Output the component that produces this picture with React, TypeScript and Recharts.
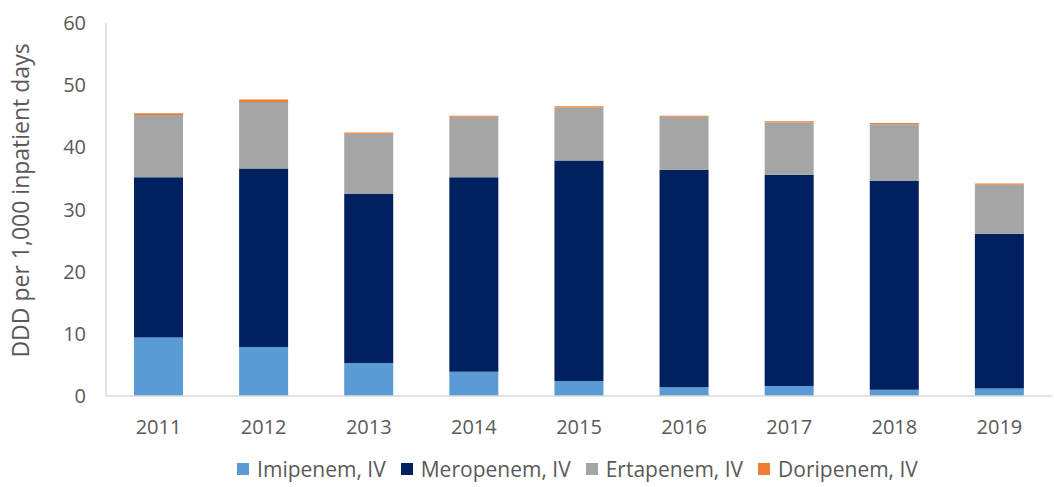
import {
  BarChart,
  Bar,
  XAxis,
  YAxis,
  Legend,
} from "recharts";

const years = ["2011", "2012", "2013", "2014", "2015", "2016", "2017", "2018", "2019"];
const imipenem = [9.4, 7.9, 5.3, 3.9, 2.4, 1.4, 1.6, 1.0, 1.2];
const meropenem = [25.8, 28.7, 27.2, 31.3, 35.5, 35.0, 34.0, 33.6, 24.9];
const ertapenem = [10.0, 10.7, 9.7, 9.7, 8.5, 8.5, 8.4, 9.1, 7.9];
const doripenem = [0.3, 0.4, 0.2, 0.2, 0.2, 0.2, 0.2, 0.2, 0.2];
const yTicks = [0, 10, 20, 30, 40, 50, 60];
const seriesOrder = ["Imipenem, IV", "Meropenem, IV", "Ertapenem, IV", "Doripenem, IV"];

const data = years.map((year, i) => ({
  year,
  imi: imipenem[i],
  mero: meropenem[i],
  erta: ertapenem[i],
  dori: doripenem[i],
}));

const font = "Open Sans, sans-serif";
const textColor = "#595959";

const YLabel = (props: any) => {
  const { viewBox } = props;
  const x = viewBox.x + 10;
  const y = viewBox.y + viewBox.height / 2 - 9;
  return (
    <text
      x={x}
      y={y}
      transform={`rotate(-90, ${x}, ${y})`}
      textAnchor="middle"
      dominantBaseline="central"
      fill={textColor}
      fontSize={23}
      fontFamily={font}
    >
      DDD per 1,000 inpatient days
    </text>
  );
};

const LegendContent = (props: any) => {
  const items = [...(props.payload || [])].sort(
    (a: any, b: any) => seriesOrder.indexOf(a.value) - seriesOrder.indexOf(b.value)
  );
  return (
    <div
      style={{
        display: "flex",
        justifyContent: "center",
        alignItems: "center",
        height: 41,
        paddingTop: 2,
        paddingLeft: 108,
        fontFamily: font,
        fontSize: 21,
        color: textColor,
      }}
    >
      {items.map((it: any) => (
        <div key={it.value} style={{ display: "flex", alignItems: "center", marginRight: 15 }}>
          <span
            style={{
              display: "inline-block",
              width: 12,
              height: 12,
              background: it.color,
              marginRight: 8,
            }}
          />
          <span>{it.value}</span>
        </div>
      ))}
    </div>
  );
};

const App = () => {
  return (
    <div style={{ position: "absolute", left: 0, top: 0, background: "#fff" }}>
      <BarChart
        width={1054}
        height={487}
        data={data}
        margin={{ top: 23, right: 2, left: 10, bottom: 0 }}
      >
        <XAxis
          dataKey="year"
          height={50}
          tickLine={false}
          tickSize={0}
          tickMargin={24}
          axisLine={{ stroke: "#d9d9d9", strokeWidth: 1.5 }}
          tick={{ fill: textColor, fontSize: 20, fontFamily: font }}
        />
        <YAxis
          width={96}
          domain={[0, 60]}
          ticks={yTicks}
          interval={0}
          tickLine={false}
          tickSize={0}
          tickMargin={20}
          axisLine={{ stroke: "#d9d9d9", strokeWidth: 1.5 }}
          tick={{ fill: textColor, fontSize: 20, fontFamily: font }}
          label={<YLabel />}
        />
        <Legend verticalAlign="bottom" height={41} content={<LegendContent />} />
        <Bar dataKey="imi" name="Imipenem, IV" stackId="a" fill="#5b9bd5" barSize={49} isAnimationActive={false} />
        <Bar dataKey="mero" name="Meropenem, IV" stackId="a" fill="#002060" barSize={49} isAnimationActive={false} />
        <Bar dataKey="erta" name="Ertapenem, IV" stackId="a" fill="#a5a5a5" barSize={49} isAnimationActive={false} />
        <Bar dataKey="dori" name="Doripenem, IV" stackId="a" fill="#ed7d31" barSize={49} isAnimationActive={false} />
      </BarChart>
    </div>
  );
};

export default App;
